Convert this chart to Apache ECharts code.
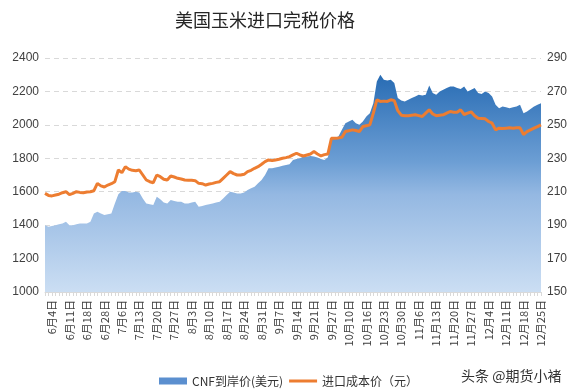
<!DOCTYPE html>
<html>
<head>
<meta charset="utf-8">
<script src="https://cdn.jsdelivr.net/npm/echarts@6/dist/echarts.min.js"></script>
<style>
html,body{margin:0;padding:0;background:#fff;}
#chart{width:577px;height:391px;}
</style>
</head>
<body>
<div id="chart"></div>
<script>
// Categories (working days, 2020)
var dates = [
'6月2日','6月3日','6月4日','6月5日','6月8日','6月9日','6月10日','6月11日','6月12日','6月15日',
'6月16日','6月17日','6月18日','6月19日','6月22日','6月23日','6月24日','6月28日','6月29日','6月30日',
'7月1日','7月3日','7月6日','7月7日','7月8日','7月9日','7月10日','7月13日','7月14日','7月15日',
'7月16日','7月17日','7月20日','7月21日','7月22日','7月23日','7月24日','7月27日','7月28日','7月29日',
'7月30日','7月31日','8月3日','8月4日','8月5日','8月6日','8月7日','8月10日','8月11日','8月12日',
'8月13日','8月14日','8月17日','8月18日','8月19日','8月20日','8月21日','8月24日','8月25日','8月26日',
'8月27日','8月28日','8月31日','9月1日','9月2日','9月3日','9月4日','9月7日','9月8日','9月9日',
'9月10日','9月11日','9月14日','9月15日','9月16日','9月17日','9月18日','9月21日','9月22日','9月23日',
'9月24日','9月25日','9月27日','9月28日','9月29日','9月30日','10月9日','10月10日','10月12日','10月13日',
'10月14日','10月15日','10月16日','10月19日','10月20日','10月21日','10月22日','10月23日','10月26日','10月27日',
'10月28日','10月29日','10月30日','11月2日','11月3日','11月4日','11月5日','11月6日','11月9日','11月10日',
'11月11日','11月12日','11月13日','11月16日','11月17日','11月18日','11月19日','11月20日','11月23日','11月24日',
'11月25日','11月26日','11月27日','11月30日','12月1日','12月2日','12月3日','12月4日','12月7日','12月8日',
'12月9日','12月10日','12月11日','12月14日','12月15日','12月16日','12月17日','12月18日','12月21日','12月22日',
'12月23日','12月24日','12月25日'
];
// Labeled categories on the x axis
var labeledDates = ['6月4日','6月11日','6月18日','6月28日','7月6日','7月13日','7月20日','7月27日','8月3日','8月10日',
'8月17日','8月24日','8月31日','9月7日','9月14日','9月21日','9月27日','10月10日','10月16日','10月23日','10月30日',
'11月6日','11月13日','11月20日','11月27日','12月4日','12月11日','12月18日','12月25日'];

// CNF到岸价(美元) - right axis
var cnfPrice = [
190,189,189.5,190,190.5,191,192,190,190,190.5,
191,191,191,192,197,198,197,196,196.5,197,
203,208.5,210.5,210.5,209.5,209.5,210,209.5,206,203,
202.5,202,207,205.5,203.5,203,205,204.5,204,204,
203,203,203.5,204,201,201.5,202,202.5,203,203.5,
204,206,208,210,209.5,209,209,209.5,211,212,
213,215,217,220,224,224,224.5,225,225.5,226,
226.5,229,229.5,230,231,231,231.3,231,230.5,229.5,
229,230.6,242,242.5,243,247,251,252,253,251,
250,252,255,257,263,276,280,277,276.5,277,
275,266,264.5,264,265,266,267,268,267.5,268,
273.5,269,268,270,271,272,273,273,272,271.5,
273,270,271,272,269,268.5,270,269,267,262,
260,261,260.5,260,260.5,261,262,257,258,259.5,
261,262,263
];
// 进口成本价（元） - left axis
var importCost = [
1590,1578,1575,1580,1585,1594,1600,1582,1590,1600,
1596,1594,1598,1600,1606,1650,1635,1628,1640,1648,
1660,1730,1714,1750,1735,1728,1726,1730,1700,1670,
1660,1654,1700,1690,1675,1670,1694,1688,1680,1676,
1670,1668,1668,1666,1650,1648,1640,1646,1650,1656,
1660,1680,1700,1720,1708,1700,1700,1704,1720,1728,
1740,1750,1764,1780,1790,1786,1790,1794,1800,1804,
1810,1820,1830,1820,1814,1820,1826,1840,1826,1814,
1822,1826,1920,1920,1922,1926,1960,1965,1970,1966,
1960,1990,1995,2000,2070,2150,2140,2142,2140,2150,
2145,2085,2058,2055,2055,2058,2060,2055,2050,2070,
2090,2065,2055,2058,2060,2070,2080,2076,2075,2090,
2062,2070,2078,2055,2040,2038,2036,2020,2010,1970,
1980,1978,1980,1982,1980,1983,1982,1942,1960,1970,
1980,1990,2000
];

var chart = echarts.init(document.getElementById('chart'), null, {renderer: 'canvas'});
var FONT = 'Liberation Sans, "Noto Sans CJK SC", sans-serif';
var CJK = '"Noto Sans CJK SC", sans-serif';
var labelSet = {};
labeledDates.forEach(function (d) { labelSet[d] = true; });
function plain(v) { return String(v); }

chart.setOption({
  animation: false,
  backgroundColor: '#ffffff',
  title: {
    text: '美国玉米进口完税价格',
    left: 170, top: 6,
    textStyle: {fontFamily: CJK, fontSize: 18, fontWeight: 'normal', color: '#262626'}
  },
  legend: {
    left: 154, top: 370,
    itemWidth: 28, itemHeight: 7, itemGap: 6,
    textStyle: {fontFamily: CJK, fontSize: 12, color: '#333333'},
    data: [
      {name: 'CNF到岸价(美元)', icon: 'rect'},
      {name: '进口成本价（元）', icon: 'path://M0,0H28V3H0Z'}
    ]
  },
  graphic: [{
    type: 'text', left: 461, top: 369,
    style: {text: '头条 @期货小褚', fontFamily: CJK, fontSize: 14, fill: '#333333'}
  }],
  grid: {left: 45, right: 36, top: 58, bottom: 99, containLabel: false},
  xAxis: {
    type: 'category',
    data: dates,
    boundaryGap: false,
    axisLine: {show: true, lineStyle: {color: '#d9d9d9', width: 1}},
    axisTick: {show: true, interval: 0, length: 4, lineStyle: {color: '#d9d9d9'}},
    axisLabel: {
      rotate: 90, margin: 8, fontFamily: CJK, fontSize: 11, color: '#404040',
      interval: function (idx, val) { return !!labelSet[val]; }
    },
    splitLine: {show: false}
  },
  yAxis: [{
    type: 'value', min: 1000, max: 2400, interval: 200, position: 'left',
    axisLine: {show: false}, axisTick: {show: false},
    axisLabel: {fontFamily: FONT, fontSize: 12, color: '#404040', margin: 6, formatter: plain},
    splitLine: {show: true, lineStyle: {color: '#d9d9d9', type: [5, 4], width: 1}}
  }, {
    type: 'value', min: 150, max: 290, interval: 20, position: 'right',
    axisLine: {show: false}, axisTick: {show: false},
    axisLabel: {fontFamily: FONT, fontSize: 12, color: '#404040', margin: 6, formatter: plain},
    splitLine: {show: false}
  }],
  series: [{
    name: 'CNF到岸价(美元)',
    type: 'line',
    yAxisIndex: 1,
    data: cnfPrice,
    symbol: 'none',
    lineStyle: {width: 0, color: '#5b8fcf'},
    itemStyle: {color: '#5b8fcf'},
    areaStyle: {
      opacity: 1,
      color: new echarts.graphic.LinearGradient(0, 0, 0, 1, [
        {offset: 0, color: 'rgb(40,108,180)'},
        {offset: 0.4, color: 'rgb(108,158,212)'},
        {offset: 0.55, color: 'rgb(148,184,226)'},
        {offset: 1, color: 'rgb(203,222,243)'}
      ])
    },
    z: 2
  }, {
    name: '进口成本价（元）',
    type: 'line',
    yAxisIndex: 0,
    data: importCost,
    symbol: 'none',
    lineStyle: {width: 3, color: '#ed7d31'},
    itemStyle: {color: '#ed7d31'},
    z: 3
  }]
});
</script>
</body>
</html>
